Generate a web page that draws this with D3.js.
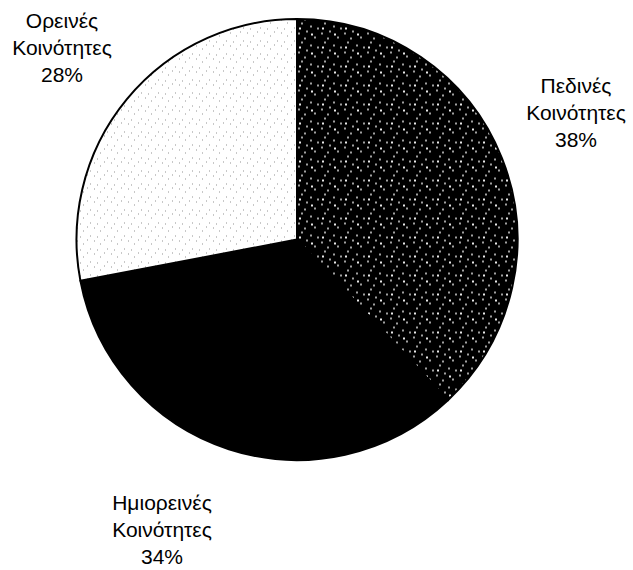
<!DOCTYPE html>
<html lang="el">
<head>
    <meta charset="UTF-8">
    <title>Κοινότητες</title>
    <script src="https://d3js.org/d3.v7.min.js"></script>
    <style>
        body { margin: 0; background: #fff; }
        .label {
            font-family: "Liberation Sans", Arial, sans-serif;
            font-size: 21px;
            fill: #000;
        }
    </style>
</head>
<body>
    <svg width="633" height="570"></svg>
    <script>
        // δεδομένα
        const categories = ["Πεδινές Κοινότητες", "Ημιορεινές Κοινότητες", "Ορεινές Κοινότητες"];
        const values = [38, 34, 28];
        const fills = ["url(#darkDots)", "#000", "url(#lightDots)"];

        const cx = 297, cy = 239.5, radius = 220.5;

        const svg = d3.select("svg");

        // υφές (patterns)
        const defs = svg.append("defs");
        const dark = defs.append("pattern")
            .attr("id", "darkDots")
            .attr("patternUnits", "userSpaceOnUse")
            .attr("width", 23).attr("height", 19);
        dark.append("rect").attr("width", 23).attr("height", 19).attr("fill", "#000");
        [[1, 2], [9, 0], [17, 6], [4, 11], [13, 14], [20, 16], [7, 7]].forEach(p => {
            dark.append("rect").attr("x", p[0]).attr("y", p[1])
                .attr("width", 2).attr("height", 2).attr("fill", "#a0a0a0");
        });
        [[14, 3], [2, 16]].forEach(p => {
            dark.append("rect").attr("x", p[0]).attr("y", p[1])
                .attr("width", 2).attr("height", 2).attr("fill", "#e8e8e8");
        });

        const light = defs.append("pattern")
            .attr("id", "lightDots")
            .attr("patternUnits", "userSpaceOnUse")
            .attr("width", 17).attr("height", 13);
        light.append("rect").attr("width", 17).attr("height", 13).attr("fill", "#fff");
        [[1, 1], [7, 4], [14, 9], [4, 10], [11, 0]].forEach(p => {
            light.append("rect").attr("x", p[0]).attr("y", p[1])
                .attr("width", 1).attr("height", 1).attr("fill", "#909090");
        });

        const data = categories.map((c, i) => ({ name: c, value: values[i], fill: fills[i] }));

        const pie = d3.pie().sort(null).value(d => d.value);
        const arc = d3.arc().innerRadius(0).outerRadius(radius);

        const g = svg.append("g").attr("transform", `translate(${cx},${cy})`);

        g.selectAll("path")
            .data(pie(data))
            .enter().append("path")
            .attr("d", arc)
            .attr("fill", d => d.data.fill)
            .attr("stroke", "#000")
            .attr("stroke-width", 2)
            .attr("stroke-linejoin", "round");

        // ετικέτες
        const labelPos = [[576, 93], [162, 510], [62, 28]];
        data.forEach((d, i) => {
            const words = d.name.split(" ");
            const t = svg.append("text")
                .attr("class", "label")
                .attr("text-anchor", "middle")
                .attr("x", labelPos[i][0])
                .attr("y", labelPos[i][1]);
            [words[0], words[1], d.value + "%"].forEach((line, j) => {
                t.append("tspan")
                    .attr("x", labelPos[i][0])
                    .attr("dy", j === 0 ? 0 : 27)
                    .text(line);
            });
        });
    </script>
</body>
</html>
